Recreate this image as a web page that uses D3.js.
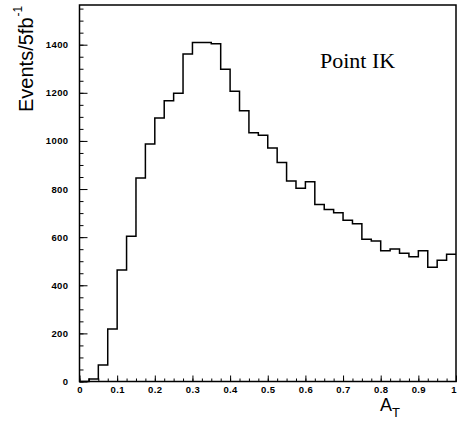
<!DOCTYPE html>
<html>
<head>
<meta charset="utf-8">
<script src="https://cdn.jsdelivr.net/npm/d3@7"></script>
<style>
  body { margin: 0; background: #fff; }
  svg { display: block; }
</style>
</head>
<body>
<svg id="chart"></svg>
<script>
// bin width 0.025 over [0, 1]
const binStart = 0, binWidth = 0.025;
const counts = [0, 10, 69, 218, 463, 604, 846, 987, 1095, 1167,
                1198, 1361, 1409, 1409, 1404, 1298, 1207, 1125, 1034, 1024,
                971, 910, 833, 803, 830, 736, 715, 701, 670, 656,
                591, 584, 543, 551, 533, 519, 543, 475, 504, 529];
const xTicks = [0, 0.1, 0.2, 0.3, 0.4, 0.5, 0.6, 0.7, 0.8, 0.9, 1];
const xMinorTicks = d3.range(0, 41).map(i => i * 0.025);
const yTicks = [0, 200, 400, 600, 800, 1000, 1200, 1400];
const yMinorTicks = d3.range(0, 32).map(i => i * 50);
const yMax = 1565;

const W = 457, H = 421;
const margin = {top: 5, right: 1, bottom: 39.5, left: 79.5};
const iw = W - margin.left - margin.right;
const ih = H - margin.top - margin.bottom;

const svg = d3.select('#chart').attr('width', W).attr('height', H);
const g = svg.append('g').attr('transform', `translate(${margin.left},${margin.top})`);

const x = d3.scaleLinear().domain([0, 1]).range([0, iw]);
const y = d3.scaleLinear().domain([0, yMax]).range([ih, 0]);

const tickFont = g => g.selectAll('text')
    .attr('font-family', 'Liberation Sans, Arial, sans-serif')
    .attr('font-size', '9.5px')
    .attr('font-weight', 'bold')
    .attr('letter-spacing', '0.4px')
    .attr('fill', '#000');

// minor ticks
g.append('g')
    .attr('transform', `translate(0,${ih})`)
    .call(d3.axisBottom(x).tickValues(xMinorTicks).tickSize(-3).tickSizeOuter(0).tickFormat(''))
    .call(a => a.select('.domain').remove())
    .call(a => a.selectAll('line').attr('stroke-width', 1));
g.append('g')
    .call(d3.axisLeft(y).tickValues(yMinorTicks).tickSize(-4).tickSizeOuter(0).tickFormat(''))
    .call(a => a.select('.domain').remove())
    .call(a => a.selectAll('line').attr('stroke-width', 1));

// major ticks
g.append('g')
    .attr('transform', `translate(0,${ih})`)
    .call(d3.axisBottom(x).tickValues(xTicks).tickSize(-6).tickSizeOuter(0).tickPadding(5)
        .tickFormat(d => (d === 0 || d === 1) ? String(d) : d.toFixed(1)))
    .call(a => a.select('.domain').remove())
    .call(a => a.selectAll('line').attr('stroke-width', 1))
    .call(tickFont)
    .call(a => a.selectAll('text').filter(d => d === 1).attr('dx', -2.5));
g.append('g')
    .call(d3.axisLeft(y).tickValues(yTicks).tickSize(-8).tickSizeOuter(0).tickPadding(11)
        .tickFormat(d3.format('d')))
    .call(a => a.select('.domain').remove())
    .call(a => a.selectAll('line').attr('stroke-width', 1))
    .call(tickFont);

// frame
g.append('rect')
    .attr('x', 0).attr('y', 0)
    .attr('width', iw).attr('height', ih)
    .attr('fill', 'none')
    .attr('stroke', '#000')
    .attr('stroke-width', 1.5);

// histogram as steps
const pts = counts.map((c, i) => [binStart + i * binWidth, c]);
pts.push([binStart + counts.length * binWidth, counts[counts.length - 1]]);
const line = d3.line()
    .x(d => x(d[0]))
    .y(d => y(d[1]))
    .curve(d3.curveStepAfter);
g.append('path')
    .datum(pts)
    .attr('d', line)
    .attr('fill', 'none')
    .attr('stroke', '#000')
    .attr('stroke-width', 1.5);

// label inside plot
svg.append('text')
    .attr('x', 320).attr('y', 67.5)
    .attr('font-family', 'Liberation Serif, Times New Roman, serif')
    .attr('font-size', '22px')
    .attr('fill', '#000')
    .text('Point IK');

// x axis title
const xt = svg.append('text')
    .attr('x', 380).attr('y', 411)
    .attr('font-family', 'Liberation Sans, Arial, sans-serif')
    .attr('font-size', '18px')
    .attr('fill', '#000');
xt.append('tspan').text('A');
xt.append('tspan').attr('font-size', '13px').attr('dy', 6).text('T');

// y axis title
const yt = svg.append('text')
    .attr('transform', 'translate(33,112) rotate(-90)')
    .attr('font-family', 'Liberation Sans, Arial, sans-serif')
    .attr('font-size', '20px')
    .attr('fill', '#000');
yt.append('tspan').text('Events/5fb');
yt.append('tspan').attr('font-size', '12px').attr('dy', -11).attr('dx', 1).text('-1');
</script>
</body>
</html>
